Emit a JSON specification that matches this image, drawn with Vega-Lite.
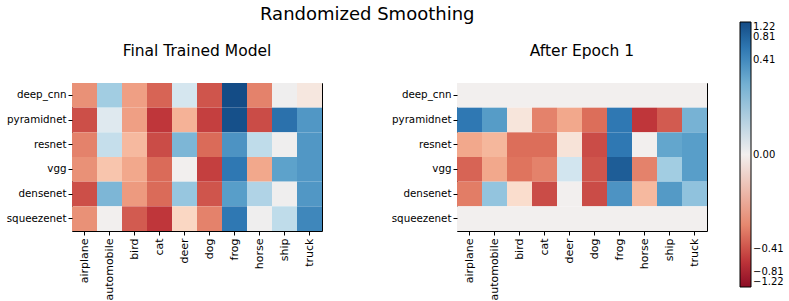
{
  "$schema": "https://vega.github.io/schema/vega-lite/v6.json",
  "padding": {"left": 5, "top": 6, "right": 0, "bottom": 0},
  "background": "white",
  "config": {
    "font": "DejaVu Sans",
    "view": {"stroke": "black", "strokeWidth": 1},
    "axis": {"labelFont": "DejaVu Sans", "labelFontSize": 10.3, "labelColor": "black", "tickColor": "black", "tickSize": 4, "labelPadding": 2, "domain": false, "title": null, "grid": false},
    "axisX": {"labelFontSize": 11, "labelPadding": 3},
    "title": {"font": "DejaVu Sans", "fontWeight": "normal", "color": "black"}
  },
  "title": {"text": "Randomized Smoothing", "fontSize": 18, "anchor": "start", "frame": "group", "offset": -2, "dx": 188},
  "datasets": {
    "final": [
      {"model": "deep_cnn", "cls": "airplane", "value": -0.1746},
      {"model": "deep_cnn", "cls": "automobile", "value": 0.1014},
      {"model": "deep_cnn", "cls": "bird", "value": -0.1403},
      {"model": "deep_cnn", "cls": "cat", "value": -0.3236},
      {"model": "deep_cnn", "cls": "deer", "value": 0.0317},
      {"model": "deep_cnn", "cls": "dog", "value": -0.394},
      {"model": "deep_cnn", "cls": "frog", "value": 1.2},
      {"model": "deep_cnn", "cls": "horse", "value": -0.2157},
      {"model": "deep_cnn", "cls": "ship", "value": 0.0026},
      {"model": "deep_cnn", "cls": "truck", "value": -0.0116},
      {"model": "pyramidnet", "cls": "airplane", "value": -0.4258},
      {"model": "pyramidnet", "cls": "automobile", "value": 0.0188},
      {"model": "pyramidnet", "cls": "bird", "value": -0.1403},
      {"model": "pyramidnet", "cls": "cat", "value": -0.5786},
      {"model": "pyramidnet", "cls": "deer", "value": -0.1014},
      {"model": "pyramidnet", "cls": "dog", "value": -0.5161},
      {"model": "pyramidnet", "cls": "frog", "value": 1.12},
      {"model": "pyramidnet", "cls": "horse", "value": -0.4426},
      {"model": "pyramidnet", "cls": "ship", "value": 0.6482},
      {"model": "pyramidnet", "cls": "truck", "value": 0.3236},
      {"model": "resnet", "cls": "airplane", "value": -0.2157},
      {"model": "resnet", "cls": "automobile", "value": 0.0507},
      {"model": "resnet", "cls": "bird", "value": -0.0875},
      {"model": "resnet", "cls": "cat", "value": -0.4426},
      {"model": "resnet", "cls": "deer", "value": 0.1746},
      {"model": "resnet", "cls": "dog", "value": -0.2989},
      {"model": "resnet", "cls": "frog", "value": 0.3503},
      {"model": "resnet", "cls": "horse", "value": 0.057},
      {"model": "resnet", "cls": "ship", "value": 0.0026},
      {"model": "resnet", "cls": "truck", "value": 0.3236},
      {"model": "vgg", "cls": "airplane", "value": -0.1746},
      {"model": "vgg", "cls": "automobile", "value": -0.0674},
      {"model": "vgg", "cls": "bird", "value": -0.1224},
      {"model": "vgg", "cls": "cat", "value": -0.2989},
      {"model": "vgg", "cls": "deer", "value": 0.0},
      {"model": "vgg", "cls": "dog", "value": -0.5161},
      {"model": "vgg", "cls": "frog", "value": 0.5786},
      {"model": "vgg", "cls": "horse", "value": -0.1224},
      {"model": "vgg", "cls": "ship", "value": 0.2649},
      {"model": "vgg", "cls": "truck", "value": 0.3236},
      {"model": "densenet", "cls": "airplane", "value": -0.4258},
      {"model": "densenet", "cls": "automobile", "value": 0.1746},
      {"model": "densenet", "cls": "bird", "value": -0.1533},
      {"model": "densenet", "cls": "cat", "value": -0.2989},
      {"model": "densenet", "cls": "deer", "value": 0.1224},
      {"model": "densenet", "cls": "dog", "value": -0.394},
      {"model": "densenet", "cls": "frog", "value": 0.2871},
      {"model": "densenet", "cls": "horse", "value": 0.0791},
      {"model": "densenet", "cls": "ship", "value": 0.0026},
      {"model": "densenet", "cls": "truck", "value": 0.3236},
      {"model": "squeezenet", "cls": "airplane", "value": -0.1746},
      {"model": "squeezenet", "cls": "automobile", "value": 0.0},
      {"model": "squeezenet", "cls": "bird", "value": -0.3643},
      {"model": "squeezenet", "cls": "cat", "value": -0.5786},
      {"model": "squeezenet", "cls": "deer", "value": -0.0419},
      {"model": "squeezenet", "cls": "dog", "value": -0.2157},
      {"model": "squeezenet", "cls": "frog", "value": 0.5786},
      {"model": "squeezenet", "cls": "horse", "value": 0.0026},
      {"model": "squeezenet", "cls": "ship", "value": 0.057},
      {"model": "squeezenet", "cls": "truck", "value": 0.4426}
    ],
    "epoch1": [
      {"model": "deep_cnn", "cls": "airplane", "value": 0},
      {"model": "deep_cnn", "cls": "automobile", "value": 0},
      {"model": "deep_cnn", "cls": "bird", "value": 0},
      {"model": "deep_cnn", "cls": "cat", "value": 0},
      {"model": "deep_cnn", "cls": "deer", "value": 0},
      {"model": "deep_cnn", "cls": "dog", "value": 0},
      {"model": "deep_cnn", "cls": "frog", "value": 0},
      {"model": "deep_cnn", "cls": "horse", "value": 0},
      {"model": "deep_cnn", "cls": "ship", "value": 0},
      {"model": "deep_cnn", "cls": "truck", "value": 0},
      {"model": "pyramidnet", "cls": "airplane", "value": 0.5786},
      {"model": "pyramidnet", "cls": "automobile", "value": 0.2989},
      {"model": "pyramidnet", "cls": "bird", "value": -0.0151},
      {"model": "pyramidnet", "cls": "cat", "value": -0.2157},
      {"model": "pyramidnet", "cls": "deer", "value": -0.1224},
      {"model": "pyramidnet", "cls": "dog", "value": -0.2871},
      {"model": "pyramidnet", "cls": "frog", "value": 0.5786},
      {"model": "pyramidnet", "cls": "horse", "value": -0.5786},
      {"model": "pyramidnet", "cls": "ship", "value": -0.3643},
      {"model": "pyramidnet", "cls": "truck", "value": 0.1902},
      {"model": "resnet", "cls": "airplane", "value": -0.1224},
      {"model": "resnet", "cls": "automobile", "value": -0.092},
      {"model": "resnet", "cls": "bird", "value": -0.2871},
      {"model": "resnet", "cls": "cat", "value": -0.2871},
      {"model": "resnet", "cls": "deer", "value": -0.0188},
      {"model": "resnet", "cls": "dog", "value": -0.4426},
      {"model": "resnet", "cls": "frog", "value": 0.5786},
      {"model": "resnet", "cls": "horse", "value": 0},
      {"model": "resnet", "cls": "ship", "value": 0.2442},
      {"model": "resnet", "cls": "truck", "value": 0.2871},
      {"model": "vgg", "cls": "airplane", "value": -0.3236},
      {"model": "vgg", "cls": "automobile", "value": -0.1224},
      {"model": "vgg", "cls": "bird", "value": -0.2649},
      {"model": "vgg", "cls": "cat", "value": -0.2157},
      {"model": "vgg", "cls": "deer", "value": 0.0366},
      {"model": "vgg", "cls": "dog", "value": -0.394},
      {"model": "vgg", "cls": "frog", "value": 0.9079},
      {"model": "vgg", "cls": "horse", "value": -0.2157},
      {"model": "vgg", "cls": "ship", "value": 0.1014},
      {"model": "vgg", "cls": "truck", "value": 0.2871},
      {"model": "densenet", "cls": "airplane", "value": -0.2343},
      {"model": "densenet", "cls": "automobile", "value": 0.1282},
      {"model": "densenet", "cls": "bird", "value": -0.0317},
      {"model": "densenet", "cls": "cat", "value": -0.4426},
      {"model": "densenet", "cls": "deer", "value": 0},
      {"model": "densenet", "cls": "dog", "value": -0.4426},
      {"model": "densenet", "cls": "frog", "value": 0.3503},
      {"model": "densenet", "cls": "horse", "value": -0.0875},
      {"model": "densenet", "cls": "ship", "value": 0.311},
      {"model": "densenet", "cls": "truck", "value": 0.1341},
      {"model": "squeezenet", "cls": "airplane", "value": 0},
      {"model": "squeezenet", "cls": "automobile", "value": 0},
      {"model": "squeezenet", "cls": "bird", "value": 0},
      {"model": "squeezenet", "cls": "cat", "value": 0},
      {"model": "squeezenet", "cls": "deer", "value": 0},
      {"model": "squeezenet", "cls": "dog", "value": 0},
      {"model": "squeezenet", "cls": "frog", "value": 0},
      {"model": "squeezenet", "cls": "horse", "value": 0},
      {"model": "squeezenet", "cls": "ship", "value": 0},
      {"model": "squeezenet", "cls": "truck", "value": 0}
    ]
  },
  "spacing": 135,
  "bounds": "flush",
  "resolve": {"scale": {"color": "shared"}},
  "hconcat": [
    {
      "data": {"name": "final"},
      "width": 250,
      "height": 148,
      "title": {"text": "Final Trained Model", "fontSize": 15.5, "offset": 24},
      "mark": {"type": "rect"},
      "encoding": {
        "x": {"field": "cls", "type": "nominal", "sort": ["airplane","automobile","bird","cat","deer","dog","frog","horse","ship","truck"], "scale": {"paddingInner": 0, "paddingOuter": 0}, "axis": {"labelAngle": -90, "orient": "bottom"}},
        "y": {"field": "model", "type": "nominal", "sort": ["deep_cnn","pyramidnet","resnet","vgg","densenet","squeezenet"], "scale": {"paddingInner": 0, "paddingOuter": 0}},
        "color": {"field": "value", "type": "quantitative",
          "scale": {"type": "symlog", "constant": 0.035, "domain": [-1.22, 1.22], "nice": false, "scheme": "redblue"},
          "legend": {"orient": "none", "legendX": 668, "legendY": -61, "direction": "vertical", "gradientLength": 265, "gradientThickness": 11, "gradientStrokeColor": "black", "gradientStrokeWidth": 1, "values": [1.22, 0.81, 0.41, 0, -0.41, -0.81, -1.22], "format": ".2f", "labelFontSize": 10, "labelColor": "black", "labelFont": "DejaVu Sans", "title": null, "labelOverlap": false}
        }
      }
    },
    {
      "data": {"name": "epoch1"},
      "width": 250,
      "height": 148,
      "title": {"text": "After Epoch 1", "fontSize": 15.5, "offset": 24},
      "mark": {"type": "rect"},
      "encoding": {
        "x": {"field": "cls", "type": "nominal", "sort": ["airplane","automobile","bird","cat","deer","dog","frog","horse","ship","truck"], "scale": {"paddingInner": 0, "paddingOuter": 0}, "axis": {"labelAngle": -90, "orient": "bottom"}},
        "y": {"field": "model", "type": "nominal", "sort": ["deep_cnn","pyramidnet","resnet","vgg","densenet","squeezenet"], "scale": {"paddingInner": 0, "paddingOuter": 0}},
        "color": {"field": "value", "type": "quantitative"}
      }
    }
  ]
}
